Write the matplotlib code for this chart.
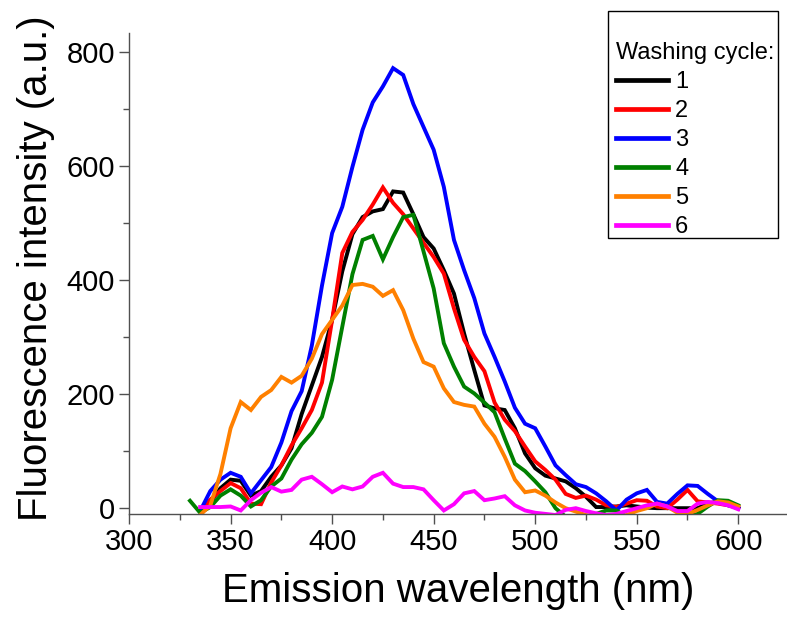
import matplotlib
matplotlib.use("Agg")
import matplotlib.pyplot as plt
from matplotlib.patches import Rectangle

plt.rcParams['font.family'] = ['Liberation Sans', 'DejaVu Sans']

# Wavelength grids (nm)
wl_green = [330, 335, 340, 345, 350, 355, 360, 365, 370, 375, 380, 385, 390, 395, 400,
            405, 410, 415, 420, 425, 430, 435, 440, 445, 450, 455, 460, 465, 470, 475,
            480, 485, 490, 495, 500, 505, 510, 515, 520, 525, 530, 535, 540, 545, 550,
            555, 560, 565, 570, 575, 580, 585, 590, 595, 600]
wl = wl_green[1:]

cycle1 = [-5, 10, 35, 50, 48, 22, 30, 55, 75, 105, 165, 215, 265, 330,
          415, 480, 510, 520, 524, 555, 553, 515, 475, 455, 417, 376, 306, 242, 180,
          175, 172, 140, 96, 70, 57, 52, 47, 35, 20, 2, 2, 3, 5, 3,
          1, 0, 0, 0, 0, 0, 8, 12, 8, 0]
cycle2 = [-5, 15, 30, 44, 35, 8, 7, 45, 75, 110, 140, 172, 220, 330,
          447, 484, 505, 532, 562, 535, 515, 490, 465, 440, 411, 350, 295, 265, 240,
          185, 155, 135, 108, 82, 67, 50, 25, 18, 22, 15, 5, 2, 8, 14,
          13, 3, 0, 15, 32, 12, 10, 8, 5, 2]
cycle3 = [-5, 30, 50, 62, 55, 26, 49, 72, 115, 170, 205, 285, 390, 482,
          528, 598, 663, 711, 739, 771, 759, 708, 668, 628, 563, 470, 417, 368, 306,
          265, 222, 176, 148, 140, 108, 75, 58, 42, 37, 26, 12, -4, 15, 26,
          32, 11, 8, 25, 40, 39, 25, 12, 5, 0]
cycle4 = [13, -8, 2, 22, 33, 22, 3, 14, 38, 52, 85, 112, 132, 160, 225,
          318, 410, 470, 477, 436, 475, 510, 514, 450, 385, 289, 248, 213, 201, 185,
          168, 122, 78, 65, 47, 28, 0, -15, -15, -15, -10, -4, -4, -15, -15,
          -15, -15, -15, -15, -15, -10, 3, 14, 13, 5]
cycle5 = [-12, 5, 60, 140, 186, 172, 195, 207, 230, 220, 232, 262, 305, 330,
          355, 391, 393, 388, 372, 382, 347, 297, 256, 248, 210, 186, 181, 178, 148,
          125, 90, 50, 28, 31, 22, 10, 0, -6, -12, -15, -15, -15, -12, -5,
          0, 8, 3, -8, -10, -3, 5, 12, 10, 3]
cycle6 = [2, 2, 2, 3, -4, 14, 27, 37, 29, 32, 50, 55, 42, 28,
          38, 33, 38, 55, 62, 43, 37, 37, 33, 14, -4, 7, 26, 30, 14,
          17, 21, 5, -4, -8, -10, -12, -3, 0, -5, -9, -12, -10, -5, 0,
          5, 8, 3, -5, -5, 8, 11, 9, 5, -2]

labels = ["1", "2", "3", "4", "5", "6"]
colors = ["#000000", "#ff0000", "#0000ff", "#008000", "#ff8000", "#ff00ff"]

x_ticks = [300, 350, 400, 450, 500, 550, 600]
y_ticks = [0, 200, 400, 600, 800]

fig = plt.figure(figsize=(7.87, 6.18), dpi=100)
ax = fig.add_axes([0.164, 0.168, 0.836, 0.779])

series = [(wl, cycle1), (wl, cycle2), (wl, cycle3), (wl_green, cycle4), (wl, cycle5), (wl, cycle6)]
handles = []
for (xs, ys), lab, col in zip(series, labels, colors):
    h, = ax.plot(xs, ys, color=col, lw=2.8, label=lab, solid_joinstyle='miter')
    handles.append(h)

ax.set_xlim(300, 624)
ax.set_ylim(-10.5, 833)
ax.set_xticks(x_ticks)
ax.set_yticks(y_ticks)
ax.set_xticks([325, 375, 425, 475, 525, 575], minor=True)
ax.set_yticks([100, 300, 500, 700], minor=True)

spine_col = '#505050'
for s in ['top', 'right']:
    ax.spines[s].set_visible(False)
for s in ['left', 'bottom']:
    ax.spines[s].set_color(spine_col)
    ax.spines[s].set_linewidth(1.0)
ax.tick_params(which='major', length=7, width=1.0, color=spine_col, labelsize=21, pad=3)
ax.tick_params(which='minor', length=4, width=1.0, color=spine_col)

ax.set_xlabel("Emission wavelength (nm)", fontsize=29)
ax.set_ylabel("Fluorescence intensity (a.u.)", fontsize=29)
ax.xaxis.set_label_coords(0.50, -0.12)
ax.yaxis.set_label_coords(-0.112, 0.512)

# legend
fig.patches.append(Rectangle((608 / 787, 1 - 238 / 618), 170 / 787, 227 / 618,
                             transform=fig.transFigure, fill=False, edgecolor='black', lw=1.0))
leg = fig.legend(handles=handles, labels=labels, title="Washing cycle:", frameon=False,
                 loc='upper left', bbox_to_anchor=(616 / 787, 1 - 42 / 618),
                 fontsize=17, title_fontsize=17, handlelength=2.2, handletextpad=0.3,
                 labelspacing=0.3, borderpad=0.0, borderaxespad=0.0, alignment='left')
for lh in leg.get_lines():
    lh.set_linewidth(3.4)

fig.savefig("out.png", dpi=100)
